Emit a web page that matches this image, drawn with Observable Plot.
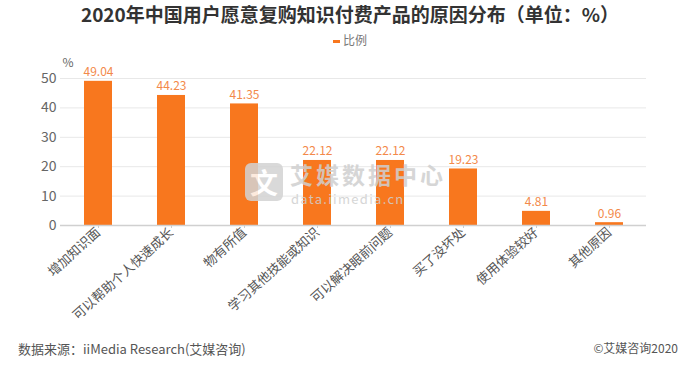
<!DOCTYPE html>
<html><head><meta charset="utf-8">
<script src="https://cdn.jsdelivr.net/npm/d3@7"></script>
<script src="https://cdn.jsdelivr.net/npm/@observablehq/plot@0.6"></script>
<style>
body{margin:0;background:#fff;font-family:"Noto Sans CJK SC","Noto Sans",sans-serif;}
#wrap{position:relative;width:700px;height:366px;overflow:hidden;}
#title{position:absolute;top:0px;left:0;width:700px;text-align:center;font-size:19px;font-weight:bold;color:#333;}
#legend{position:absolute;top:31px;left:0;width:700px;text-align:center;font-size:12px;color:#777;}
#legend span.sw{display:inline-block;width:7px;height:3px;background:#f8771e;vertical-align:middle;margin-right:3px;}
#chart{position:absolute;top:50px;left:0;}
#wm{position:absolute;left:245px;top:163px;color:#d0d0d0;pointer-events:none;opacity:0.85;}
#wm .logo{position:absolute;left:0;top:0;width:38px;height:38px;background:#d3d3d3;border-radius:6px;color:#fff;font-size:28px;font-weight:bold;text-align:center;line-height:38px;}
#wm .t1{position:absolute;left:45px;top:0px;font-size:23px;line-height:23px;font-weight:bold;letter-spacing:3px;white-space:nowrap;color:#cfcfcf;}
#wm .t2{position:absolute;left:46px;top:29px;font-size:13px;line-height:13px;letter-spacing:1.3px;white-space:nowrap;color:#cfcfcf;}
#src{position:absolute;left:18px;top:339px;font-size:13px;color:#555;}
#copy{position:absolute;right:22px;top:339px;font-size:12px;color:#555;}
</style></head>
<body>
<div id="wrap">
<div id="title">2020年中国用户愿意复购知识付费产品的原因分布（单位：%）</div>
<div id="legend"><span class="sw"></span>比例</div>
<div id="chart"></div>
<div id="wm"><div class="logo">文</div><div class="t1">艾媒数据中心</div><div class="t2">data.iimedia.cn</div></div>
<div id="src">数据来源：iiMedia Research(艾媒咨询)</div>
<div id="copy">©艾媒咨询2020</div>
</div>
<script>
const categories = ["增加知识面","可以帮助个人快速成长","物有所值","学习其他技能或知识","可以解决眼前问题","买了没坏处","使用体验较好","其他原因"];
const values = [49.04, 44.23, 41.35, 22.12, 22.12, 19.23, 4.81, 0.96];
const labels = ["49.04","44.23","41.35","22.12","22.12","19.23","4.81","0.96"];
const yTicks = [0,10,20,30,40,50];

const data = categories.map((c,i)=>({cat:c, v:values[i], lab:labels[i]}));
const orange = "#f8771e";

const chart = Plot.plot({
  width: 700,
  height: 285,
  marginTop: 28,
  marginBottom: 110,
  marginLeft: 60,
  marginRight: 54,
  style: {fontFamily: '"Noto Sans CJK SC","Noto Sans",sans-serif', background: "transparent"},
  x: {domain: categories, paddingInner: 0.62, paddingOuter: 0.31, label: null},
  y: {domain: [0, 50], label: null},
  marks: [
    Plot.gridY(yTicks, {stroke: "#e8e8e8", strokeOpacity: 1}),
    Plot.barY(data, {x: "cat", y: "v", fill: orange}),
    Plot.ruleY([0], {stroke: "#d0d0d0", strokeWidth: 1.5}),
    Plot.text(data, {x: "cat", y: "v", text: "lab", dy: -9, fill: "#f3894a", fontSize: 12}),
    Plot.axisY(yTicks, {tickSize: 0, tickPadding: 4, fontSize: 14, fill: "#666", label: null}),
    Plot.axisX({tickSize: 3, stroke: "#ccc", tickRotate: -42, tickPadding: 2, fontSize: 13, fill: "#555", label: null, textAnchor: "end"}),
    Plot.text(["%"], {frameAnchor: "top-left", dx: 2, dy: -20, fill: "#666", fontSize: 12, textAnchor: "start"})
  ]
});
document.getElementById("chart").appendChild(chart);
</script>
</body></html>
